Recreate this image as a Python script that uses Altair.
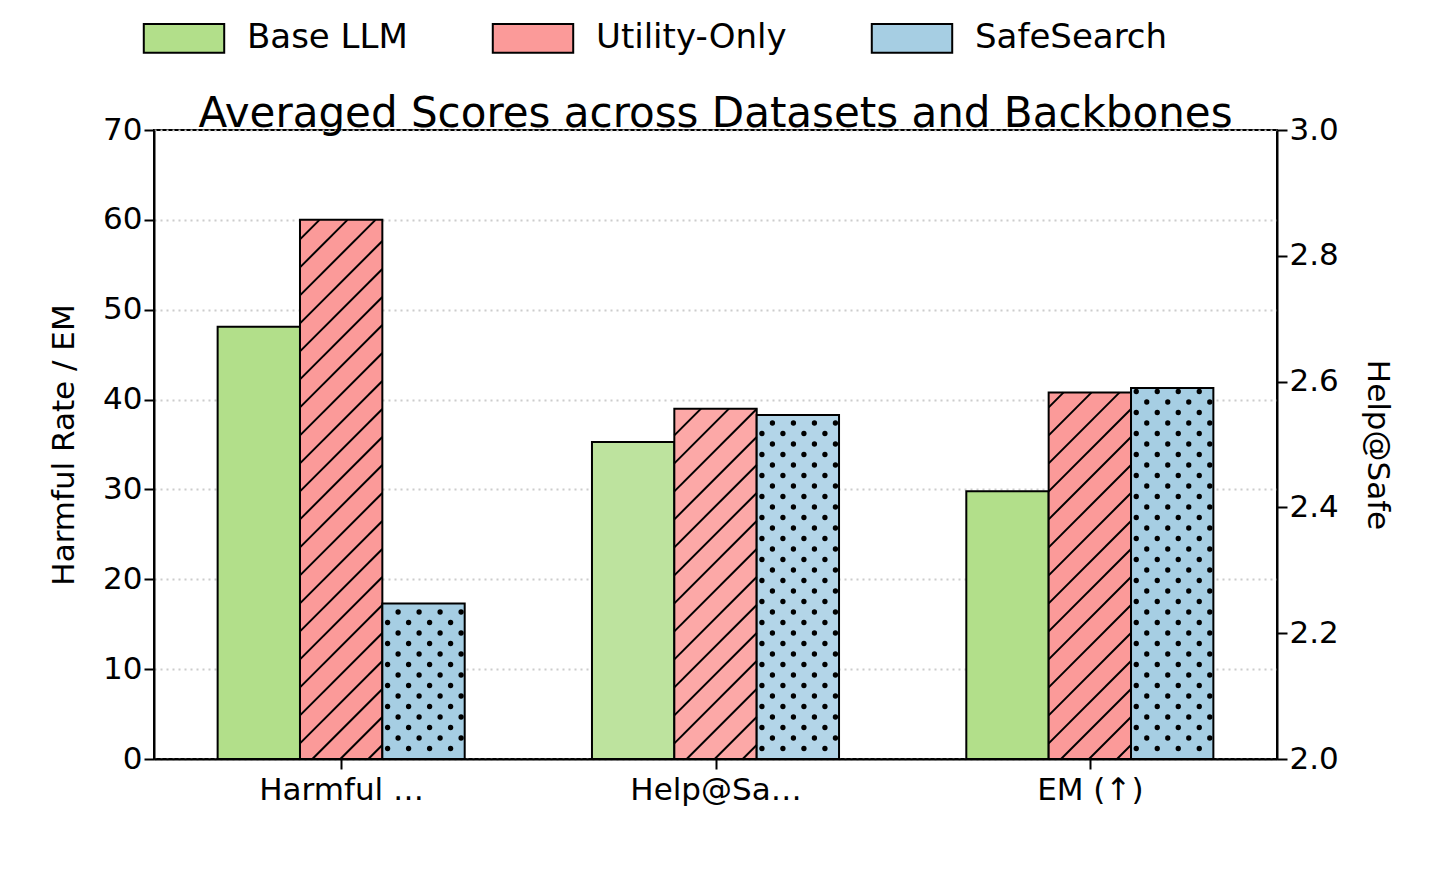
import pandas as pd
import numpy as np
import altair as alt

methods = ["Base LLM", "Utility-Only", "SafeSearch"]
metrics = ["Harmful Rate (↓)", "Help@Safe (↑)", "EM (↑)"]
harmful = [48.1, 60.0, 17.3]
help_safe = [2.504, 2.557, 2.547]   # right axis, 2.0 - 3.0
em = [29.8, 40.8, 41.3]
colors = ["#b2df8a", "#fb9a99", "#a6cee3"]
light = ["#bde39e", "#fca8a7", "#b3d5e8"]

W, H = 1123, 629
ppx = W / 3.0
ppy = H / 70.0
bw = 0.22

rows = []
for g, vals in enumerate([harmful, [(v - 2) * 70 for v in help_safe], em]):
    for i, m in enumerate(methods):
        xl = g + (i - 1) * bw - bw / 2
        rows.append(dict(metric=g, method=m, x0=xl, x1=xl + bw, v=vals[i],
                         fill=(light if g == 1 else colors)[i]))
bars = pd.DataFrame(rows)

# hatch "//" for Utility-Only
s = ppx / ppy
step = 28 / ppy
hatch = []
for r in bars[bars.method == "Utility-Only"].itertuples():
    b = -s * bw + step / 2
    while b < r.v:
        xs = max(r.x0, r.x0 - b / s)
        xe = min(r.x1, r.x0 + (r.v - b) / s)
        hatch.append(dict(x=xs, y=s * (xs - r.x0) + b, x2=xe, y2=s * (xe - r.x0) + b))
        b += step
hatch = pd.DataFrame(hatch)

# dots for SafeSearch
dots = []
dx, dy = 21 / ppx, 21 / ppy
for r in bars[bars.method == "SafeSearch"].itertuples():
    j = 0
    y = dy / 2
    while y < r.v - 0.3:
        off = dx / 2 if j % 2 else 0
        x = r.x0 + dx / 2 + off - dx / 4
        while x < r.x1 - 0.005:
            if x > r.x0 + 0.005:
                dots.append(dict(x=x, y=y))
            x += dx
        y += dy / 2
        j += 1
dots = pd.DataFrame(dots)

xscale = alt.Scale(domain=[-0.5, 2.5], nice=False, zero=False)
yscale = alt.Scale(domain=[0, 70], nice=False)
label_expr = "datum.value == 0 ? '%s' : datum.value == 1 ? '%s' : '%s'" % tuple(metrics)

base_bars = alt.Chart(bars).mark_rect(stroke="black", strokeWidth=2).encode(
    x=alt.X("x0:Q", scale=xscale, axis=alt.Axis(values=[0, 1, 2], labelExpr=label_expr,
            title=None, grid=False, tickSize=10, tickWidth=2, labelPadding=6)),
    x2="x1:Q",
    y=alt.Y("v:Q", scale=yscale, axis=alt.Axis(values=list(range(0, 71, 10)),
            title="Harmful Rate / EM", grid=True, gridDash=[2, 4], gridColor="#cccccc",
            gridWidth=2, tickSize=10, tickWidth=2, titlePadding=22)),
    y2=alt.datum(0),
    fill=alt.Fill("fill:N", scale=None),
)

legend_bars = alt.Chart(bars).mark_rect(opacity=0).encode(
    x="x0:Q", x2="x1:Q", y="v:Q",
    color=alt.Color("method:N", scale=alt.Scale(domain=methods, range=colors),
                    legend=alt.Legend(orient="none", direction="horizontal", title=None,
                                      legendX=0, legendY=-122, columnPadding=80,
                                      symbolType="M-1.4,-0.5L1.4,-0.5L1.4,0.5L-1.4,0.5Z",
                                      symbolSize=3300, symbolStrokeColor="black",
                                      symbolStrokeWidth=2, symbolOpacity=1,
                                      labelFontSize=34, labelOffset=33, labelLimit=500)),
)

hatch_layer = alt.Chart(hatch).mark_rule(color="black", strokeWidth=2).encode(
    x="x:Q", y="y:Q", x2="x2:Q", y2="y2:Q")

dot_layer = alt.Chart(dots).mark_circle(color="black", size=28, opacity=1).encode(
    x="x:Q", y="y:Q")

left = alt.layer(base_bars, legend_bars, hatch_layer, dot_layer)

right = alt.Chart(pd.DataFrame({"r": [2.0, 3.0], "x": [0, 0]})).mark_point(opacity=0).encode(
    x=alt.X("x:Q", scale=xscale),
    y=alt.Y("r:Q", scale=alt.Scale(domain=[2, 3], nice=False, zero=False),
            axis=alt.Axis(orient="right", title="Help@Safe", format=".1f",
                          values=[2.0, 2.2, 2.4, 2.6, 2.8, 3.0], tickSize=10,
                          tickWidth=2, titlePadding=22, grid=False)),
)

chart = alt.layer(left, right).resolve_scale(y="independent").properties(
    width=W, height=H,
    title=alt.TitleParams("Averaged Scores across Datasets and Backbones", fontSize=42,
                          fontWeight="normal", offset=0, dy=128, font="DejaVu Sans"),
).configure_axis(
    labelFontSize=31, titleFontSize=31, titleFontWeight="normal", domainColor="black",
    domainWidth=2, tickColor="black", labelColor="black", titleColor="black",
    labelFont="DejaVu Sans", titleFont="DejaVu Sans",
).configure_legend(labelFont="DejaVu Sans").configure_view(stroke="black", strokeWidth=2
).properties(padding={"left": 40, "top": 0, "right": 8, "bottom": 8})

chart.save("out.html", embed_options={"renderer": "svg", "actions": False})
